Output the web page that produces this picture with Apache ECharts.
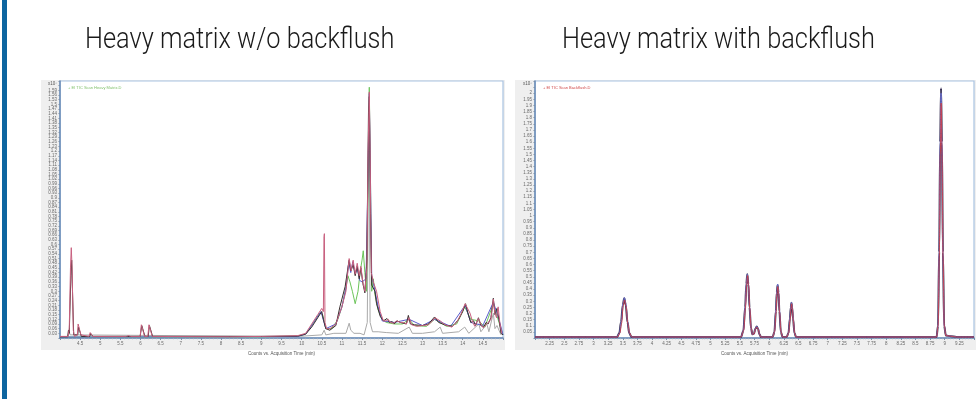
<!DOCTYPE html>
<html><head><meta charset="utf-8">
<script src="https://cdn.jsdelivr.net/npm/echarts@6/dist/echarts.min.js"></script>
<style>html,body{margin:0;padding:0;background:#fff}#c{width:977px;height:399px}</style>
</head><body><div id="c"></div>
<script>
// ---- titles ----
const leftTitle = 'Heavy matrix w/o backflush';
const rightTitle = 'Heavy matrix with backflush';
const leftLegend = '+ EI TIC Scan Heavy Matrix.D';
const rightLegend = '+ EI TIC Scan Backflush.D';
const xName = 'Counts vs. Acquisition Time (min)';
const yUnit = 'x10\u2077';

// ---- left chart traces [time, counts x10^7] ----
const leftPink = [[4.0,0.01],[4.2,0.01],[4.23,0.06],[4.26,0.45],[4.28,0.58],[4.30,0.45],[4.33,0.05],[4.36,0.01],[4.43,0.02],[4.45,0.09],[4.49,0.09],[4.52,0.02],[4.72,0.01],[4.75,0.035],[4.78,0.035],[4.81,0.01],[5.65,0.01],[5.70,0.015],[5.75,0.01],[5.99,0.01],[6.02,0.085],[6.06,0.09],[6.10,0.01],[6.18,0.01],[6.21,0.085],[6.25,0.09],[6.29,0.01],[8.2,0.008],[9.0,0.01],[9.9,0.015],[10.1,0.03],[10.25,0.09],[10.4,0.15],[10.5,0.19],[10.54,0.17],[10.555,0.65],[10.565,0.67],[10.58,0.1],[10.62,0.06],[10.7,0.06],[10.85,0.09],[11.0,0.2],[11.1,0.3],[11.18,0.51],[11.23,0.43],[11.28,0.5],[11.33,0.41],[11.38,0.48],[11.43,0.4],[11.47,0.46],[11.52,0.36],[11.57,0.3],[11.62,0.45],[11.65,1.2],[11.68,1.58],[11.7,1.2],[11.73,0.42],[11.78,0.36],[11.86,0.3],[11.95,0.17],[12.03,0.11],[12.1,0.11],[12.15,0.12],[12.2,0.1],[12.28,0.095],[12.36,0.11],[12.45,0.1],[12.53,0.1],[12.6,0.09],[12.67,0.13],[12.73,0.085],[12.86,0.075],[13.0,0.08],[13.15,0.085],[13.25,0.11],[13.31,0.13],[13.44,0.11],[13.56,0.085],[13.73,0.07],[13.85,0.1],[13.95,0.15],[14.06,0.22],[14.18,0.16],[14.25,0.1],[14.3,0.075],[14.39,0.125],[14.45,0.09],[14.51,0.065],[14.6,0.09],[14.64,0.095],[14.7,0.12],[14.76,0.25],[14.8,0.16],[14.84,0.13],[14.88,0.2],[14.92,0.1],[14.97,0.03]];
const leftDark = [[4.0,0.008],[4.19,0.008],[4.21,0.05],[4.23,0.03],[4.27,0.4],[4.29,0.5],[4.31,0.3],[4.34,0.02],[4.44,0.02],[4.46,0.07],[4.5,0.07],[4.53,0.01],[4.74,0.01],[4.76,0.03],[4.79,0.03],[4.82,0.01],[5.99,0.01],[6.03,0.08],[6.07,0.08],[6.11,0.01],[6.19,0.01],[6.22,0.08],[6.26,0.08],[6.3,0.01],[9.0,0.01],[9.9,0.012],[10.1,0.025],[10.25,0.07],[10.4,0.13],[10.5,0.17],[10.54,0.12],[10.6,0.06],[10.7,0.05],[10.85,0.08],[10.95,0.2],[11.08,0.33],[11.15,0.45],[11.18,0.5],[11.22,0.43],[11.28,0.47],[11.33,0.4],[11.38,0.46],[11.43,0.38],[11.47,0.45],[11.52,0.35],[11.57,0.29],[11.62,0.5],[11.66,1.45],[11.68,1.55],[11.71,0.8],[11.74,0.34],[11.78,0.35],[11.82,0.3],[11.86,0.22],[11.95,0.14],[12.03,0.11],[12.07,0.115],[12.12,0.125],[12.18,0.1],[12.25,0.105],[12.3,0.09],[12.37,0.11],[12.45,0.1],[12.52,0.095],[12.6,0.09],[12.65,0.145],[12.7,0.09],[12.8,0.085],[13.0,0.08],[13.15,0.09],[13.3,0.135],[13.4,0.1],[13.5,0.09],[13.6,0.08],[13.75,0.075],[13.9,0.12],[14.0,0.17],[14.07,0.22],[14.15,0.14],[14.2,0.1],[14.27,0.11],[14.32,0.08],[14.39,0.13],[14.45,0.08],[14.52,0.07],[14.58,0.1],[14.63,0.09],[14.7,0.13],[14.76,0.255],[14.8,0.15],[14.85,0.19],[14.9,0.12],[14.95,0.03],[15.0,0.02]];
const leftGreen = [[4.0,0.006],[9.0,0.008],[9.9,0.012],[10.1,0.025],[10.3,0.1],[10.45,0.16],[10.52,0.15],[10.6,0.06],[10.75,0.06],[10.9,0.12],[11.0,0.2],[11.1,0.32],[11.15,0.4],[11.2,0.36],[11.26,0.3],[11.33,0.22],[11.4,0.3],[11.45,0.42],[11.5,0.5],[11.53,0.56],[11.57,0.42],[11.61,0.3],[11.65,1.0],[11.68,1.61],[11.71,1.0],[11.74,0.3],[11.78,0.38],[11.82,0.28],[11.9,0.18],[12.0,0.12],[12.1,0.1],[12.3,0.09],[12.5,0.09],[12.67,0.12],[12.8,0.08],[13.1,0.075],[13.3,0.12],[13.6,0.075],[13.85,0.09],[14.05,0.2],[14.2,0.12],[14.4,0.11],[14.55,0.07],[14.76,0.22],[14.9,0.1],[15.0,0.02]];
const leftBlue = [[4.0,0.006],[9.9,0.01],[10.1,0.025],[10.3,0.1],[10.48,0.17],[10.6,0.06],[10.85,0.09],[11.0,0.2],[11.1,0.32],[11.17,0.49],[11.22,0.42],[11.27,0.49],[11.33,0.41],[11.38,0.45],[11.44,0.37],[11.5,0.36],[11.6,0.38],[11.65,1.1],[11.68,1.57],[11.71,1.0],[11.74,0.4],[11.8,0.33],[11.9,0.2],[12.0,0.11],[12.3,0.1],[12.67,0.12],[13.0,0.08],[13.3,0.12],[13.7,0.075],[14.06,0.21],[14.2,0.1],[14.5,0.08],[14.76,0.23],[14.9,0.12],[15.0,0.02]];
const leftGray = [[4.0,0.01],[4.2,0.01],[4.22,0.05],[4.25,0.02],[9.9,0.01],[10.5,0.02],[10.56,0.05],[10.6,0.02],[10.8,0.03],[11.1,0.03],[11.18,0.095],[11.22,0.05],[11.3,0.03],[11.45,0.03],[11.55,0.02],[11.63,0.1],[11.67,1.45],[11.7,0.1],[11.76,0.04],[11.9,0.04],[12.1,0.035],[12.4,0.03],[12.67,0.07],[12.75,0.03],[13.0,0.03],[13.3,0.04],[13.44,0.07],[13.5,0.03],[13.9,0.04],[14.05,0.07],[14.15,0.03],[14.4,0.09],[14.45,0.04],[14.6,0.09],[14.65,0.04],[14.76,0.16],[14.8,0.06],[14.85,0.08],[14.95,0.02]];

// ---- right chart traces ----
const rightDark = [[2.0,0.008],[3.40,0.008],[3.44,0.04],[3.47,0.13],[3.50,0.27],[3.525,0.324],[3.55,0.27],[3.58,0.13],[3.61,0.04],[3.65,0.008],[5.52,0.008],[5.56,0.06],[5.59,0.25],[5.61,0.44],[5.627,0.52],[5.645,0.44],[5.665,0.25],[5.69,0.08],[5.715,0.03],[5.74,0.035],[5.765,0.075],[5.788,0.093],[5.81,0.075],[5.835,0.03],[5.86,0.008],[6.06,0.008],[6.09,0.05],[6.115,0.22],[6.13,0.37],[6.145,0.433],[6.16,0.37],[6.175,0.22],[6.2,0.05],[6.23,0.008],[6.30,0.008],[6.33,0.04],[6.355,0.16],[6.37,0.25],[6.381,0.289],[6.393,0.25],[6.408,0.16],[6.433,0.04],[6.46,0.008],[8.86,0.008],[8.885,0.1],[8.905,0.7],[8.922,1.6],[8.937,2.04],[8.952,1.6],[8.969,0.7],[8.99,0.1],[9.02,0.02],[9.1,0.015],[9.2,0.008],[9.5,0.008]];
const rightRed = [[2.0,0.008],[3.41,0.008],[3.45,0.04],[3.48,0.12],[3.505,0.26],[3.53,0.31],[3.555,0.26],[3.585,0.12],[3.615,0.04],[3.655,0.008],[5.52,0.008],[5.565,0.06],[5.595,0.24],[5.615,0.43],[5.631,0.51],[5.649,0.43],[5.669,0.24],[5.693,0.08],[5.717,0.03],[5.742,0.033],[5.767,0.072],[5.79,0.09],[5.812,0.072],[5.837,0.03],[5.86,0.008],[6.06,0.008],[6.093,0.05],[6.118,0.21],[6.133,0.36],[6.148,0.42],[6.163,0.36],[6.178,0.21],[6.203,0.05],[6.23,0.008],[6.30,0.008],[6.333,0.04],[6.358,0.15],[6.373,0.24],[6.384,0.28],[6.396,0.24],[6.411,0.15],[6.436,0.04],[6.46,0.008],[8.86,0.008],[8.887,0.1],[8.907,0.66],[8.924,1.5],[8.939,1.92],[8.954,1.5],[8.971,0.66],[8.992,0.1],[9.02,0.02],[9.1,0.015],[9.2,0.008],[9.5,0.008]];
const rightBlue = [[2.0,0.008],[3.40,0.008],[3.443,0.04],[3.474,0.135],[3.503,0.28],[3.528,0.33],[3.553,0.28],[3.582,0.135],[3.612,0.04],[3.65,0.008],[5.52,0.008],[5.561,0.06],[5.591,0.25],[5.611,0.44],[5.628,0.52],[5.646,0.44],[5.666,0.25],[5.691,0.08],[5.716,0.03],[5.741,0.036],[5.766,0.078],[5.789,0.095],[5.811,0.078],[5.836,0.03],[5.86,0.008],[6.06,0.008],[6.091,0.05],[6.116,0.23],[6.131,0.38],[6.146,0.44],[6.161,0.38],[6.176,0.23],[6.201,0.05],[6.23,0.008],[6.30,0.008],[6.331,0.04],[6.356,0.165],[6.371,0.255],[6.382,0.29],[6.394,0.255],[6.409,0.165],[6.434,0.04],[6.46,0.008],[8.86,0.008],[8.885,0.1],[8.905,0.69],[8.922,1.57],[8.937,2.0],[8.952,1.57],[8.969,0.69],[8.99,0.1],[9.02,0.02],[9.1,0.015],[9.2,0.008],[9.5,0.008]];

const chart = echarts.init(document.getElementById('c'), null, {renderer:'canvas'});
const tiny = {fontSize:4.5, color:'#6a6a6a', fontFamily:'Liberation Sans'};
function fmt(v){ return String(+v.toFixed(3)); }
function xAxisCfg(idx,min,max,interval){
  return {gridIndex:idx,type:'value',min:min,max:max,interval:interval,
    name:xName,nameLocation:'middle',nameGap:8,nameTextStyle:{fontSize:4.5,color:'#555',fontFamily:'Liberation Sans'},
    axisLine:{lineStyle:{color:'#6688b4',width:1.5}},
    axisTick:{show:true,length:2,lineStyle:{color:'#7a8fa8'}},
    minorTick:{show:true,splitNumber:5,length:1.2,lineStyle:{color:'#9aa8b8'}},
    axisLabel:Object.assign({margin:3,formatter:v=>(v<=min||v>=max)?'':fmt(v)},tiny),
    splitLine:{show:false}};
}
function yAxisCfg(idx,max,interval,top){
  return {gridIndex:idx,type:'value',min:0,max:max,interval:interval,
    name:yUnit,nameLocation:'end',nameGap:-3,nameTextStyle:{fontSize:4.5,color:'#555',align:'right',verticalAlign:'middle',padding:[0,3,0,0],fontFamily:'Liberation Sans'},
    axisLine:{show:true,lineStyle:{color:'#6688b4',width:1.5}},
    axisTick:{show:true,length:1.5,lineStyle:{color:'#7a8fa8'}},
    axisLabel:Object.assign({margin:3,formatter:v=>(v<=0||v>top)?'':fmt(v)},tiny),
    splitLine:{show:false}};
}
function line(name,data,xi,color,width,z,smooth){
  return {name:name,type:'line',xAxisIndex:xi,yAxisIndex:xi,data:data,showSymbol:false,symbol:'none',
    smooth:smooth||false,smoothMonotone:'x',lineStyle:{color:color,width:width},z:z,animation:false};
}
const titleFont = {fontSize:29, fontFamily:'Roboto', fontWeight:300, fill:'#1a1a1a'};
chart.setOption({
  animation:false,
  backgroundColor:'#ffffff',
  graphic:[
    {type:'rect',shape:{x:2,y:0,width:5,height:399},style:{fill:'#0d65a0'},silent:true},
    {type:'rect',shape:{x:41,y:80,width:464,height:270},style:{fill:'#efefef'},silent:true,z:-10},
    {type:'rect',shape:{x:515,y:80,width:461,height:270},style:{fill:'#efefef'},silent:true,z:-10},
    {type:'text',x:85,y:41,scaleX:0.875,style:Object.assign({text:leftTitle,verticalAlign:'middle'},titleFont)},
    {type:'text',x:562,y:41,scaleX:0.875,style:Object.assign({text:rightTitle,verticalAlign:'middle'},titleFont)}
  ],
  title:[
    {text:leftLegend,left:63,top:81,textStyle:{fontSize:4,color:'#7fc06a',fontWeight:'normal',fontFamily:'Liberation Sans'}},
    {text:rightLegend,left:538,top:81,textStyle:{fontSize:4,color:'#d04848',fontWeight:'normal',fontFamily:'Liberation Sans'}}
  ],
  grid:[
    {left:60,top:81,width:443,height:257,show:true,backgroundColor:'#ffffff',borderColor:'#a9c3e2',borderWidth:1.2},
    {left:535,top:81,width:439,height:257,show:true,backgroundColor:'#ffffff',borderColor:'#a9c3e2',borderWidth:1.2}
  ],
  xAxis:[xAxisCfg(0,4,15,0.5), xAxisCfg(1,2,9.5,0.25)],
  yAxis:[yAxisCfg(0,1.65,0.03,1.6), yAxisCfg(1,2.1,0.05,2.0)],
  series:[
    line('gray',leftGray,0,'#a9a9a9',1,2),
    line('green',leftGreen,0,'#6cc45a',1,3),
    line('blue',leftBlue,0,'#5a5ccc',1,4),
    line('dark',leftDark,0,'#3a2e2e',1,5),
    line('pink',leftPink,0,'#c8607f',1,6),
    line('dark',rightDark,1,'#3b3356',2,3,0.35),
    line('blue',rightBlue,1,'#7076d6',1,4,0.35),
    line('red',rightRed,1,'#d63a3a',0.8,5,0.35)
  ]
});
</script></body></html>
